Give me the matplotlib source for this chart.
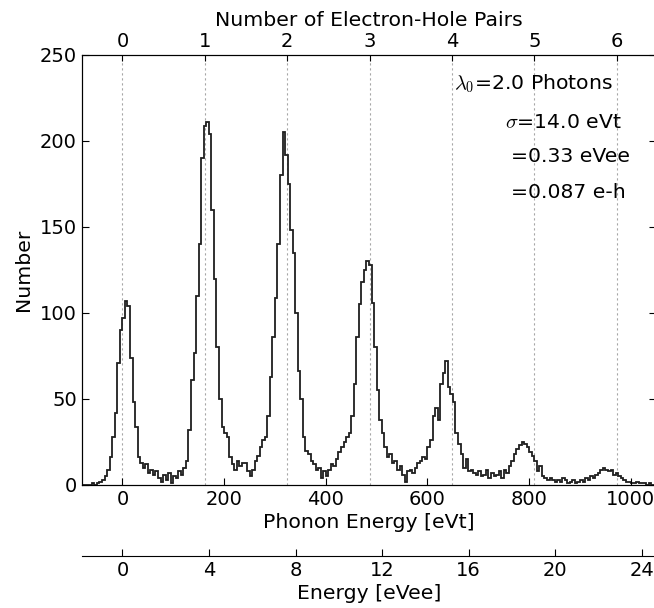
import numpy as np
import matplotlib
matplotlib.use("Agg")
import matplotlib.pyplot as plt

plt.rcParams["font.family"] = ["DejaVu Sans"]
plt.rcParams["mathtext.fontset"] = "cm"

# Histogram of phonon energy, 5 eVt bins starting at -80 eVt
bin_start = -80.0
bin_width = 5.0
counts = [
    0, 0, 0, 0, 1, 0, 1, 2, 3, 5,            # -80 .. -35
    9, 16, 28, 42, 71, 90, 97, 107, 104, 74,  # -30 .. 15
    48, 34, 16, 13, 10, 12, 7, 9, 6, 8,       # 20 .. 65
    4, 2, 6, 3, 7, 1, 5, 4, 8, 6,             # 70 .. 115
    10, 14, 32, 61, 77, 110, 140, 190, 209, 211,  # 120 .. 165
    204, 160, 120, 80, 50, 34, 30, 28, 16, 12,    # 170 .. 215
    9, 14, 11, 13, 13, 8, 5, 9, 14, 17,       # 220 .. 265
    22, 26, 28, 40, 63, 86, 109, 140, 180, 205,   # 270 .. 315
    192, 175, 148, 135, 100, 66, 50, 28, 20, 18,  # 320 .. 365
    14, 12, 9, 10, 4, 8, 5, 9, 12, 11,        # 370 .. 415
    15, 19, 22, 25, 28, 30, 40, 59, 86, 105,  # 420 .. 465
    118, 125, 130, 128, 106, 80, 55, 38, 30, 22,  # 470 .. 515
    16, 18, 13, 14, 9, 11, 6, 2, 8, 9,        # 520 .. 565
    7, 10, 13, 14, 16, 15, 22, 26, 40, 45,    # 570 .. 615
    38, 59, 65, 72, 57, 53, 48, 30, 24, 18,   # 620 .. 665
    10, 15, 8, 9, 7, 6, 8, 5, 6, 9,           # 670 .. 715
    4, 7, 5, 6, 8, 4, 9, 7, 11, 14,           # 720 .. 765
    18, 21, 23, 25, 24, 22, 19, 17, 14, 8,    # 770 .. 815
    11, 5, 4, 3, 4, 3, 2, 3, 2, 4,            # 820 .. 865
    3, 1, 2, 3, 1, 2, 3, 2, 4, 3,             # 870 .. 915
    5, 4, 6, 7, 9, 10, 9, 8, 9, 6,            # 920 .. 965
    7, 5, 4, 3, 2, 2, 1, 1, 2, 1,             # 970 .. 1015
    1, 1, 0, 1, 0, 0,                         # 1020 .. 1045
]
bin_edges = bin_start + bin_width * np.arange(len(counts) + 1)

# Conversion factors
evt_per_pair = 162.0      # phonon eV per electron-hole pair
evt_per_evee = 42.57      # phonon eV per electron-equivalent eV

x_range = (-80, 1050)
evt_ticks = [0, 200, 400, 600, 800, 1000]
pair_ticks = [0, 1, 2, 3, 4, 5, 6]
evee_ticks = [0, 4, 8, 12, 16, 20, 24]
y_ticks = [0, 50, 100, 150, 200, 250]

fs = 14.7      # axis labels and annotations
tfs = 14.0     # tick labels
W, H = 654, 608
fig = plt.figure(figsize=(W / 100, H / 100), dpi=100)
ax = fig.add_axes([81.7 / W, 1 - 485 / H, (656.3 - 81.7) / W, 430 / H])

ax.stairs(counts, bin_edges, color="0.12", lw=1.3)
ax.set_xlim(*x_range)
ax.set_ylim(0, 250)
ax.set_xticks(evt_ticks)
ax.set_yticks(y_ticks)
ax.tick_params(axis="both", direction="in", length=5, labelsize=tfs,
               bottom=True, top=False, left=True, right=True)
ax.set_xlabel("Phonon Energy [eVt]", fontsize=fs, labelpad=3)
ax.set_ylabel("Number", fontsize=fs, labelpad=5)

# Top axis: number of electron-hole pairs, with dotted guide lines
ax2 = ax.twiny()
ax2.set_xlim(x_range[0] / evt_per_pair, x_range[1] / evt_per_pair)
ax2.set_xticks(pair_ticks)
ax2.tick_params(axis="x", direction="in", length=4, labelsize=tfs, pad=3)
ax2.grid(axis="x", ls=(0, (2, 2.5)), color="0.65", lw=0.8)
ax2.set_xlabel("Number of Electron-Hole Pairs", fontsize=fs, labelpad=4)
ax2.set_zorder(0)
ax.set_zorder(1)
ax.patch.set_visible(False)

# Second bottom axis: electron-equivalent energy
ax3 = ax.twiny()
ax3.xaxis.set_ticks_position("bottom")
ax3.xaxis.set_label_position("bottom")
ax3.spines["bottom"].set_position(("outward", 71 * 0.72))
for s in ("top", "left", "right"):
    ax3.spines[s].set_visible(False)
ax3.set_xlim(x_range[0] / evt_per_evee, x_range[1] / evt_per_evee)
ax3.set_xticks(evee_ticks)
ax3.tick_params(axis="x", direction="in", length=5, labelsize=tfs)
ax3.set_xlabel("Energy [eVee]", fontsize=fs, labelpad=3)

# Parameter annotations
def px_text(x, y, s):
    fig.text(x / W, 1 - y / H, s, fontsize=fs, ha="left", va="center")

px_text(454, 84, r"$\lambda_0$=2.0 Photons")
px_text(505, 122, r"$\sigma$=14.0 eVt")
px_text(511, 157, "=0.33 eVee")
px_text(511, 192, "=0.087 e-h")

fig.savefig("out.png", dpi=100)
